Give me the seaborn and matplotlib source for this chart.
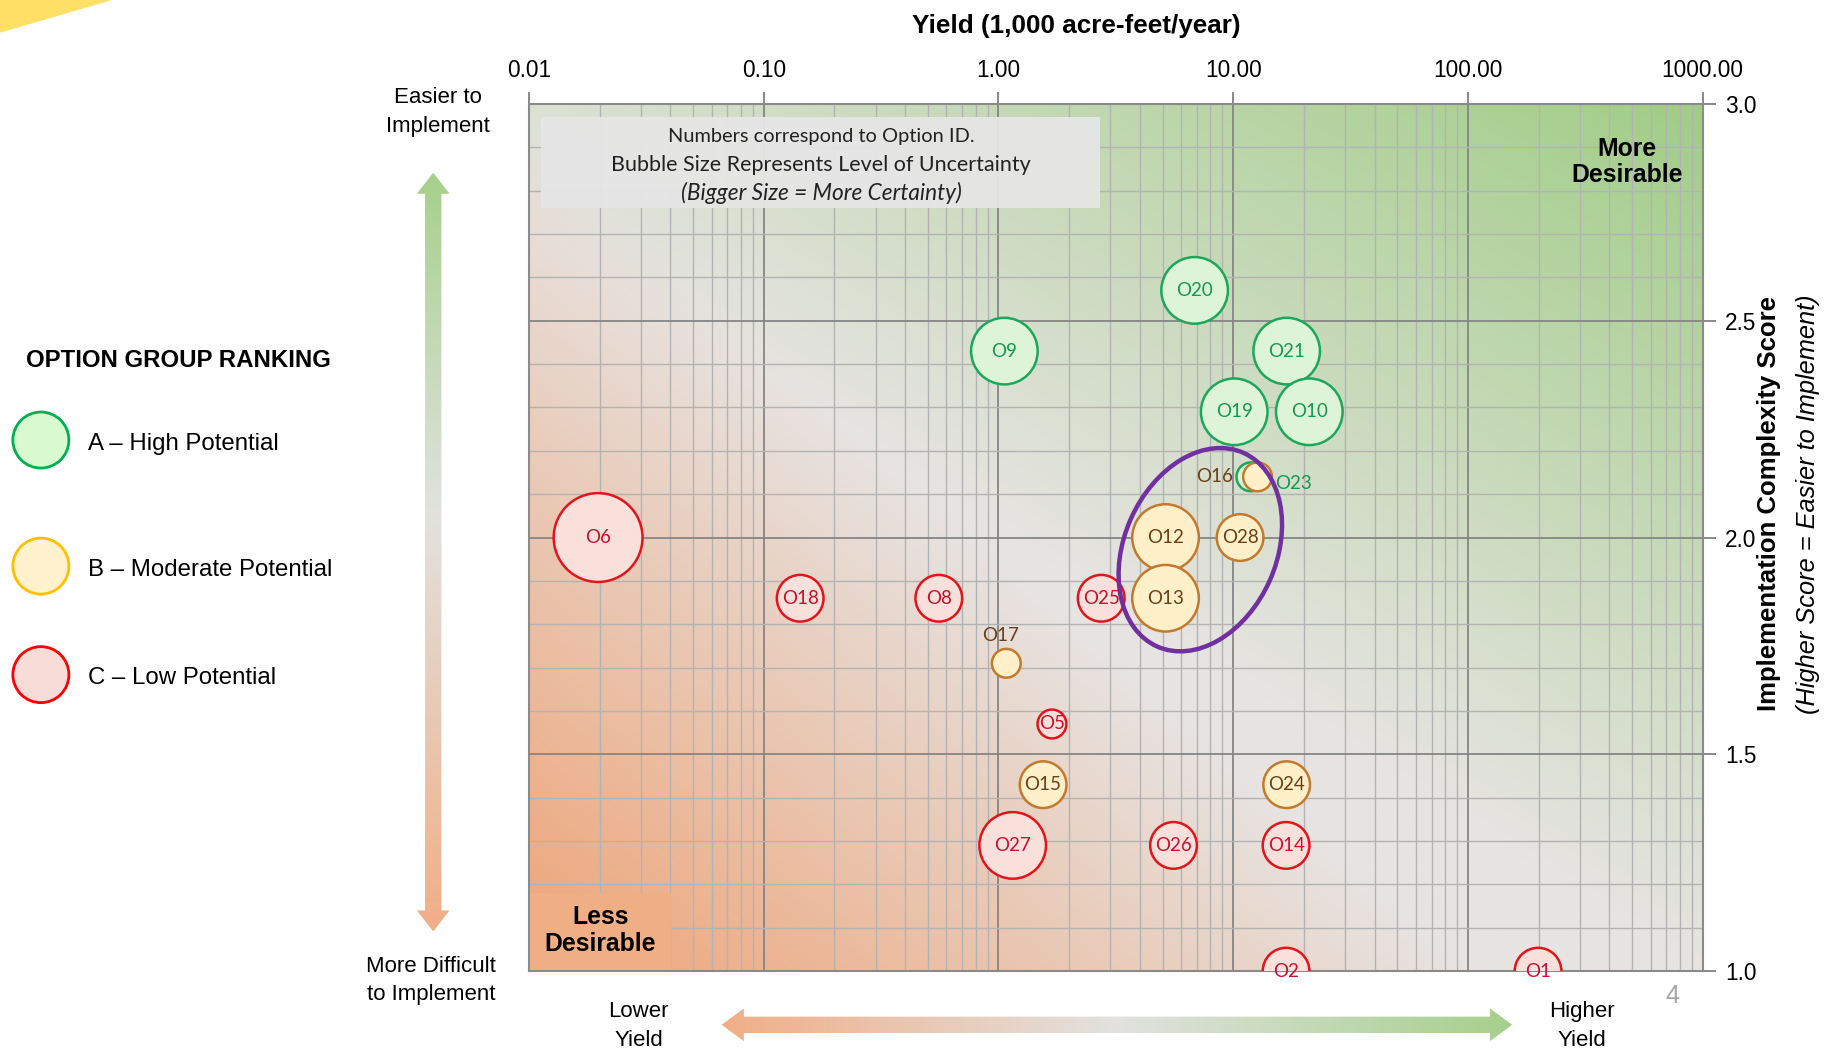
import numpy as np
import pandas as pd
import matplotlib
matplotlib.use('Agg')
import matplotlib.pyplot as plt
import matplotlib.transforms as mtransforms
import seaborn as sns
from matplotlib.patches import Ellipse, Circle, Polygon, Rectangle
from matplotlib.colors import LinearSegmentedColormap
from matplotlib.ticker import FixedLocator, FormatStrFormatter, LogLocator, MultipleLocator, NullFormatter

# option data
options = ['O20', 'O9', 'O21', 'O19', 'O10', 'O23',
           'O16', 'O12', 'O28', 'O13', 'O17', 'O15', 'O24',
           'O6', 'O18', 'O8', 'O25', 'O5', 'O27', 'O26', 'O14', 'O2', 'O1']
yield_kaf = [6.85, 1.06, 16.9, 10.1, 21.1, 11.9,
             12.7, 5.15, 10.7, 5.15, 1.08, 1.55, 16.9,
             0.0197, 0.143, 0.557, 2.74, 1.69, 1.15, 5.57, 16.8, 16.8, 199]
complexity = [2.57, 2.43, 2.43, 2.29, 2.29, 2.14,
              2.14, 2.00, 2.00, 1.86, 1.71, 1.43, 1.43,
              2.00, 1.86, 1.86, 1.86, 1.57, 1.29, 1.29, 1.29, 1.00, 1.00]
certainty = [3, 3, 3, 3, 3, 1,
             1, 3, 2, 3, 1, 2, 2,
             4, 2, 2, 2, 1, 3, 2, 2, 2, 2]
group = ['A'] * 6 + ['B'] * 7 + ['C'] * 10

group_names = {'A': 'A \u2013 High Potential', 'B': 'B \u2013 Moderate Potential', 'C': 'C \u2013 Low Potential'}
x_ticks = [0.01, 0.1, 1, 10, 100, 1000]
y_ticks = [1.0, 1.5, 2.0, 2.5, 3.0]

df = pd.DataFrame({'option': options, 'yield': yield_kaf, 'score': complexity,
                   'certainty': certainty, 'group': group})

face = {'A': '#DDF4D6', 'B': '#FFF0C9', 'C': '#FAE0DA'}
edge = {'A': '#1BA85C', 'B': '#C47A2C', 'C': '#E3141C'}
txt = {'A': '#139A4E', 'B': '#6B3E16', 'C': '#C8102E'}
leg_face = {'A': '#D9F9D0', 'B': '#FFF2CC', 'C': '#F7DCD7'}
leg_edge = {'A': '#00B050', 'B': '#FFC000', 'C': '#FF0000'}
bubble_sizes = {1: 430, 2: 1130, 3: 2300, 4: 4090}
label_offsets = {'O16': (-31, 0), 'O23': (31, -5), 'O17': (-4, 20)}

NARROW = ['Liberation Sans Narrow', 'Liberation Sans', 'DejaVu Sans']
CAL = ['Lato', 'DejaVu Sans']
plt.rcParams['font.family'] = NARROW

fig = plt.figure(figsize=(18.31, 10.54), dpi=100)

# overlay in (shrunk) pixel coords for the decorations outside the plot
ov = fig.add_axes([0, 0, 1, 1], zorder=0)
ov.set_xlim(0, 1568)
ov.set_ylim(903, 0)
ov.axis('off')

ax = fig.add_axes([0.2889, 0.0786, 0.6410, 0.8228], zorder=1)

# background gradient (orange bottom-left -> grey -> green top-right)
nx, ny = 500, 300
xf, yf = np.meshgrid(np.linspace(0, 1, nx), np.linspace(0, 1, ny))
o = np.clip(1 - 1.25 * xf - 1.05 * yf, 0, 1)[..., None]
g = np.clip(0.85 * xf + 1.0 * yf - 0.85, 0, 1)[..., None]
base = np.array([231, 228, 226]) / 255
orange = np.array([238, 163, 118]) / 255
green = np.array([160, 205, 134]) / 255
bg = base * (1 - o - g) + orange * o + green * g
ax.imshow(bg, extent=[0, 1, 0, 1], transform=ax.transAxes, origin='lower',
          aspect='auto', zorder=0, interpolation='bilinear')

ax.set_xscale('log')

for grp in ['C', 'A', 'B']:
    sub = df[df['group'] == grp]
    sns.scatterplot(data=sub, x='yield', y='score', size='certainty', sizes=bubble_sizes,
                    color=face[grp], edgecolor=edge[grp], linewidth=1.8, legend=False,
                    ax=ax, zorder=3)

for _, r in df.iterrows():
    dx, dy = label_offsets.get(r['option'], (0, 0))
    ax.annotate(r['option'], (r['yield'], r['score']), xytext=(dx, dy), textcoords='offset points',
                ha='center', va='center', fontsize=13.5, color=txt[r['group']],
                family=CAL, zorder=6, annotation_clip=False)

ax.set_xlim(0.01, 1000)
ax.set_ylim(1.0, 3.0)

# axes, ticks, grid
ax.xaxis.tick_top()
ax.yaxis.tick_right()
ax.xaxis.set_major_locator(FixedLocator(x_ticks))
ax.xaxis.set_major_formatter(FormatStrFormatter('%.2f'))
ax.xaxis.set_minor_locator(LogLocator(base=10, subs=np.arange(2, 10)))
ax.xaxis.set_minor_formatter(NullFormatter())
ax.yaxis.set_major_locator(FixedLocator(y_ticks))
ax.yaxis.set_major_formatter(FormatStrFormatter('%.1f'))
ax.yaxis.set_minor_locator(MultipleLocator(0.1))
ax.tick_params(which='major', length=9, width=1.3, color='#808080', labelsize=16.3, pad=7)
ax.tick_params(which='minor', length=0)
ax.set_axisbelow(True)
ax.grid(which='major', color='#858585', linewidth=1.3)
ax.grid(which='minor', color='#B3B3B3', linewidth=1.0)
for s in ax.spines.values():
    s.set_color('#8A8A8A')
    s.set_linewidth(1.5)

ax.set_xlabel('Yield (1,000 acre-feet/year)', fontsize=18.8, fontweight='bold')
ax.xaxis.set_label_position('top')
ax.xaxis.set_label_coords(0.4667, 1.09)
ax.xaxis.label.set_va('center')
ax.set_ylabel('Implementation Complexity Score', fontsize=18.5, fontweight='bold')
ax.yaxis.set_label_position('right')
ax.yaxis.set_label_coords(1.0567, 0.539)
ax.yaxis.label.set_va('center')
ax.text(1.0896, 0.538, '(Higher Score = Easier to Implement)', transform=ax.transAxes,
        rotation=90, ha='center', va='center', fontsize=18.3, style='italic')

# note box
ax.add_patch(Rectangle((0.01, 0.880), 0.4766, 0.1052, transform=ax.transAxes,
                       facecolor='#E6E6E6', edgecolor='none', alpha=0.95, zorder=2))
ax.text(0.2488, 0.9623, 'Numbers correspond to Option ID.', transform=ax.transAxes,
        ha='center', va='center', fontsize=14.4, family=CAL, zorder=3, color='#222222')
ax.text(0.2488, 0.930, 'Bubble Size Represents Level of Uncertainty', transform=ax.transAxes,
        ha='center', va='center', fontsize=15.5, family=CAL, zorder=3, color='#222222')
ax.text(0.2488, 0.8977, '(Bigger Size = More Certainty)', transform=ax.transAxes,
        ha='center', va='center', fontsize=16.3, family=CAL, style='italic', zorder=3, color='#222222')

# corner labels
ax.text(0.9353, 0.9327, 'More\nDesirable', transform=ax.transAxes, ha='center', va='center',
        fontsize=17.8, fontweight='bold', family=['Liberation Sans', 'DejaVu Sans'],
        linespacing=1.12, zorder=3)
ax.add_patch(Rectangle((0, 0), 0.121, 0.090, transform=ax.transAxes,
                       facecolor='#EFAE84', edgecolor='none', zorder=2))
ax.text(0.0607, 0.047, 'Less\nDesirable', transform=ax.transAxes, ha='center', va='center',
        fontsize=17.8, fontweight='bold', family=['Liberation Sans', 'DejaVu Sans'],
        linespacing=1.12, zorder=3)

# purple highlight ellipse around O12/O13/O28/O16
ell = Ellipse((0, 0), 1.52, 2.12, angle=-24, fill=False, edgecolor='#7030A0', linewidth=3.2,
              transform=fig.dpi_scale_trans + mtransforms.ScaledTranslation(0.572, 0.486, ax.transAxes),
              zorder=4, clip_on=False)
ax.add_patch(ell)


def gradient_arrow(axo, pts, bbox, colors, vertical):
    poly = Polygon(pts, closed=True, facecolor='none', edgecolor='none')
    axo.add_patch(poly)
    cm = LinearSegmentedColormap.from_list('arr', colors)
    n = 256
    grad = np.linspace(0, 1, n)
    arr = grad[:, None] if vertical else grad[None, :]
    x0, x1, y0, y1 = bbox
    im = axo.imshow(arr, cmap=cm, extent=(x0, x1, y1, y0), origin='upper', aspect='auto',
                    interpolation='bilinear')
    im.set_clip_path(poly)


v_pts = [(371, 148), (385, 166), (378, 166), (378, 780), (385, 780), (371, 798),
         (357, 780), (364, 780), (364, 166), (357, 166)]
gradient_arrow(ov, v_pts, (356, 386, 148, 798),
               [(0, '#A6D08B'), (0.45, '#E2E2E0'), (1, '#F1AE86')], True)
h_pts = [(618, 878), (637, 864), (637, 871), (1276, 871), (1276, 864), (1295, 878),
         (1276, 892), (1276, 885), (637, 885), (637, 892)]
gradient_arrow(ov, h_pts, (617, 1296, 863, 893),
               [(0, '#F1AE86'), (0.5, '#E2E2E0'), (1, '#A6D08B')], False)
ov.set_xlim(0, 1568)
ov.set_ylim(903, 0)

ov.text(375, 96, 'Easier to\nImplement', ha='center', va='center', fontsize=16, linespacing=1.45)
ov.text(369, 840, 'More Difficult\nto Implement', ha='center', va='center', fontsize=16, linespacing=1.45)
ov.text(547, 879, 'Lower\nYield', ha='center', va='center', fontsize=16, linespacing=1.45)
ov.text(1355, 879, 'Higher\nYield', ha='center', va='center', fontsize=16, linespacing=1.45)
ov.text(1432, 853, '4', ha='center', va='center', fontsize=18, color='#A6A6A6')

# legend
ov.text(22, 309, 'OPTION GROUP RANKING', ha='left', va='center', fontsize=17.3, fontweight='bold')
for grp, yy in zip(['A', 'B', 'C'], [377, 485, 578]):
    ov.add_patch(Circle((35, yy), 24, facecolor=leg_face[grp], edgecolor=leg_edge[grp], linewidth=2))
    ov.text(75, yy + 3, group_names[grp], ha='left', va='center', fontsize=17.3)

# yellow corner flag
ov.add_patch(Polygon([(0, 0), (96, 0), (0, 28)], closed=True, facecolor='#FFE066', edgecolor='none'))

fig.savefig('out.png', dpi=100)
